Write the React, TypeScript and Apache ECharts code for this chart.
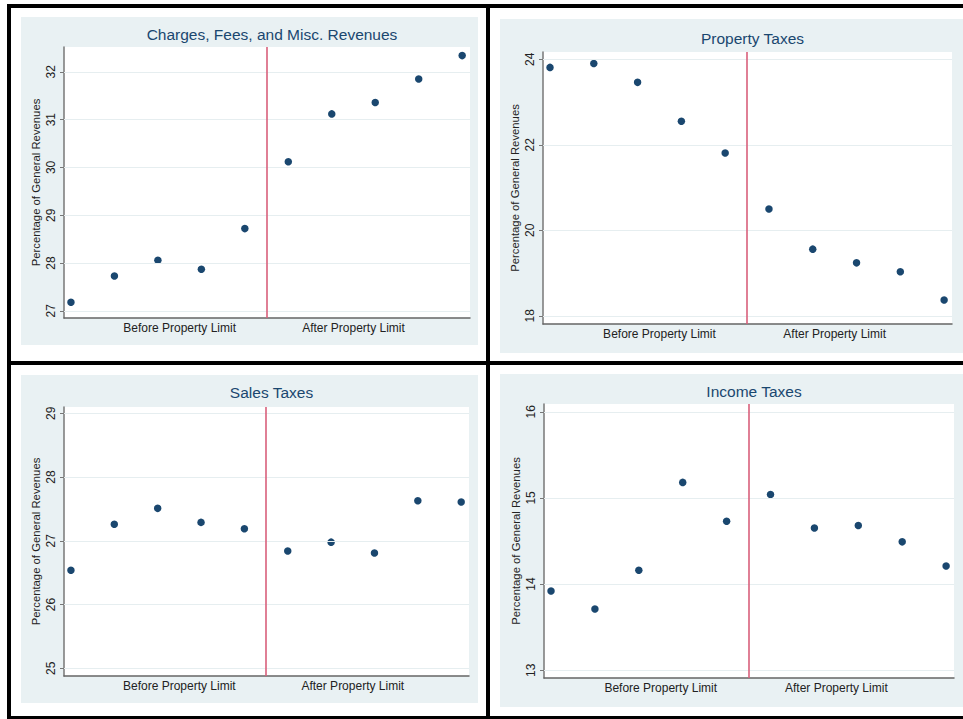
import React, { useEffect, useRef } from "react";
import * as echarts from "echarts";

const periods = [1, 2, 3, 4, 5, 6, 7, 8, 9, 10];
const charges = [27.18, 27.73, 28.06, 27.87, 28.72, 30.12, 31.12, 31.36, 31.85, 32.34];
const property = [23.81, 23.9, 23.46, 22.55, 21.81, 20.5, 19.56, 19.24, 19.03, 18.37];
const sales = [26.54, 27.26, 27.51, 27.29, 27.19, 26.84, 26.98, 26.81, 27.63, 27.61];
const income = [13.92, 13.71, 14.16, 15.18, 14.73, 15.04, 14.65, 14.68, 14.49, 14.21];

const titles = ["Charges, Fees, and Misc. Revenues", "Property Taxes", "Sales Taxes", "Income Taxes"];
const chargesTicks = [27, 28, 29, 30, 31, 32];
const propertyTicks = [18, 20, 22, 24];
const salesTicks = [25, 26, 27, 28, 29];
const incomeTicks = [13, 14, 15, 16];
const xLabels = ["Before Property Limit", "After Property Limit"];
const xLabelPos = [3.5, 7.5];
const limitAt = 5.5;
const yTitle = "Percentage of General Revenues";

const NAVY = "#1a476f";
const BG = "#e9f1f3";
const GRIDC = "#e6eef0";
const RED = "#d9607b";
const TXT = "#222";

export default function App() {
  const ref = useRef<HTMLDivElement>(null);
  useEffect(() => {
    if (!ref.current) return;
    const chart = echarts.init(ref.current, null, { renderer: "svg" });
    const grids = [
      { left: 64, top: 47, width: 406, height: 271 },
      { left: 543, top: 52, width: 409, height: 272 },
      { left: 64, top: 407, width: 405, height: 269 },
      { left: 544, top: 404, width: 410, height: 274 },
    ];
    const yRanges = [
      [26.85, 32.52],
      [17.81, 24.17],
      [24.88, 29.1],
      [12.91, 16.09],
    ];
    const ticks = [chargesTicks, propertyTicks, salesTicks, incomeTicks];
    const values = [charges, property, sales, income];
    const titleTops = [21, 25, 379, 378];

    const option: any = {
      animation: false,
      backgroundColor: "#fff",
      title: grids.map((g, i) => ({
        text: titles[i],
        left: g.left + g.width / 2,
        top: titleTops[i],
        textAlign: "center",
        textStyle: { color: NAVY, fontSize: 15.5, fontWeight: "normal", fontFamily: "Liberation Sans" },
      })),
      grid: grids.map((g) => ({
        ...g,
        show: true,
        backgroundColor: "#fff",
        borderWidth: 0,
        containLabel: false,
      })),
      xAxis: grids.map((_, i) => ({
        type: "value",
        gridIndex: i,
        min: 0.84,
        max: 10.18,
        axisLine: { show: true, onZero: false, lineStyle: { color: "#666", width: 1.5 } },
        axisTick: { show: false },
        splitLine: { show: false },
        axisLabel: {
          customValues: xLabelPos,
          formatter: (v: number) => (v < limitAt ? xLabels[0] : xLabels[1]),
          color: TXT,
          fontSize: 12,
          margin: 4,
          fontFamily: "Liberation Sans",
        },
      })),
      yAxis: grids.map((_, i) => ({
        type: "value",
        gridIndex: i,
        min: yRanges[i][0],
        max: yRanges[i][1],
        name: yTitle,
        nameLocation: "middle",
        nameGap: 23,
        nameTextStyle: { color: TXT, fontSize: 11.3, fontFamily: "Liberation Sans" },
        axisLine: { show: true, onZero: false, lineStyle: { color: "#777", width: 1.5 } },
        axisTick: { show: true, length: 4, customValues: ticks[i], lineStyle: { color: "#777" } },
        splitLine: { show: false },
        axisLabel: {
          customValues: ticks[i],
          rotate: 90,
          color: TXT,
          fontSize: 12,
          margin: 7,
          fontFamily: "Liberation Sans",
        },
      })),
      series: [
        ...grids.map((_, i) => ({
          type: "scatter",
          xAxisIndex: i,
          yAxisIndex: i,
          data: [],
          z: 1,
          silent: true,
          markLine: {
            silent: true,
            symbol: "none",
            label: { show: false },
            animation: false,
            data: ticks[i].map((t) => ({ yAxis: t, lineStyle: { color: GRIDC, width: 1, type: "solid" } })),
          },
        })),
        ...grids.map((_, i) => ({
          type: "scatter",
          xAxisIndex: i,
          yAxisIndex: i,
          z: 2,
          silent: true,
          data: [],
          markLine: {
            silent: true,
            symbol: "none",
            label: { show: false },
            animation: false,
            data: [{ xAxis: limitAt, lineStyle: { color: RED, width: 1.6, type: "solid" } }],
          },
        })),
        ...grids.map((_, i) => ({
          type: "scatter",
          xAxisIndex: i,
          yAxisIndex: i,
          z: 3,
          symbolSize: 7.5,
          itemStyle: { color: NAVY, opacity: 1 },
          data: periods.map((p, k) => [p, values[i][k]]),
        })),
      ],
      graphic: [
        { type: "rect", z: -10, shape: { x: 21, y: 17, width: 457, height: 328 }, style: { fill: BG } },
        { type: "rect", z: -10, shape: { x: 500, y: 19, width: 463, height: 334 }, style: { fill: BG } },
        { type: "rect", z: -10, shape: { x: 21, y: 375, width: 457, height: 328 }, style: { fill: BG } },
        { type: "rect", z: -10, shape: { x: 500, y: 374, width: 463, height: 333 }, style: { fill: BG } },
        { type: "rect", z: 10, shape: { x: 7, y: 4, width: 956, height: 4 }, style: { fill: "#000" } },
        { type: "rect", z: 10, shape: { x: 7, y: 4, width: 4, height: 715 }, style: { fill: "#000" } },
        { type: "rect", z: 10, shape: { x: 7, y: 716, width: 956, height: 3 }, style: { fill: "#000" } },
        { type: "rect", z: 10, shape: { x: 486, y: 4, width: 4, height: 715 }, style: { fill: "#000" } },
        { type: "rect", z: 10, shape: { x: 7, y: 361, width: 956, height: 4 }, style: { fill: "#000" } },
      ],
    };
    chart.setOption(option);
    return () => chart.dispose();
  }, []);
  return (
    <div
      ref={ref}
      style={{ position: "absolute", left: 0, top: 0, width: 963, height: 719 }}
    />
  );
}
